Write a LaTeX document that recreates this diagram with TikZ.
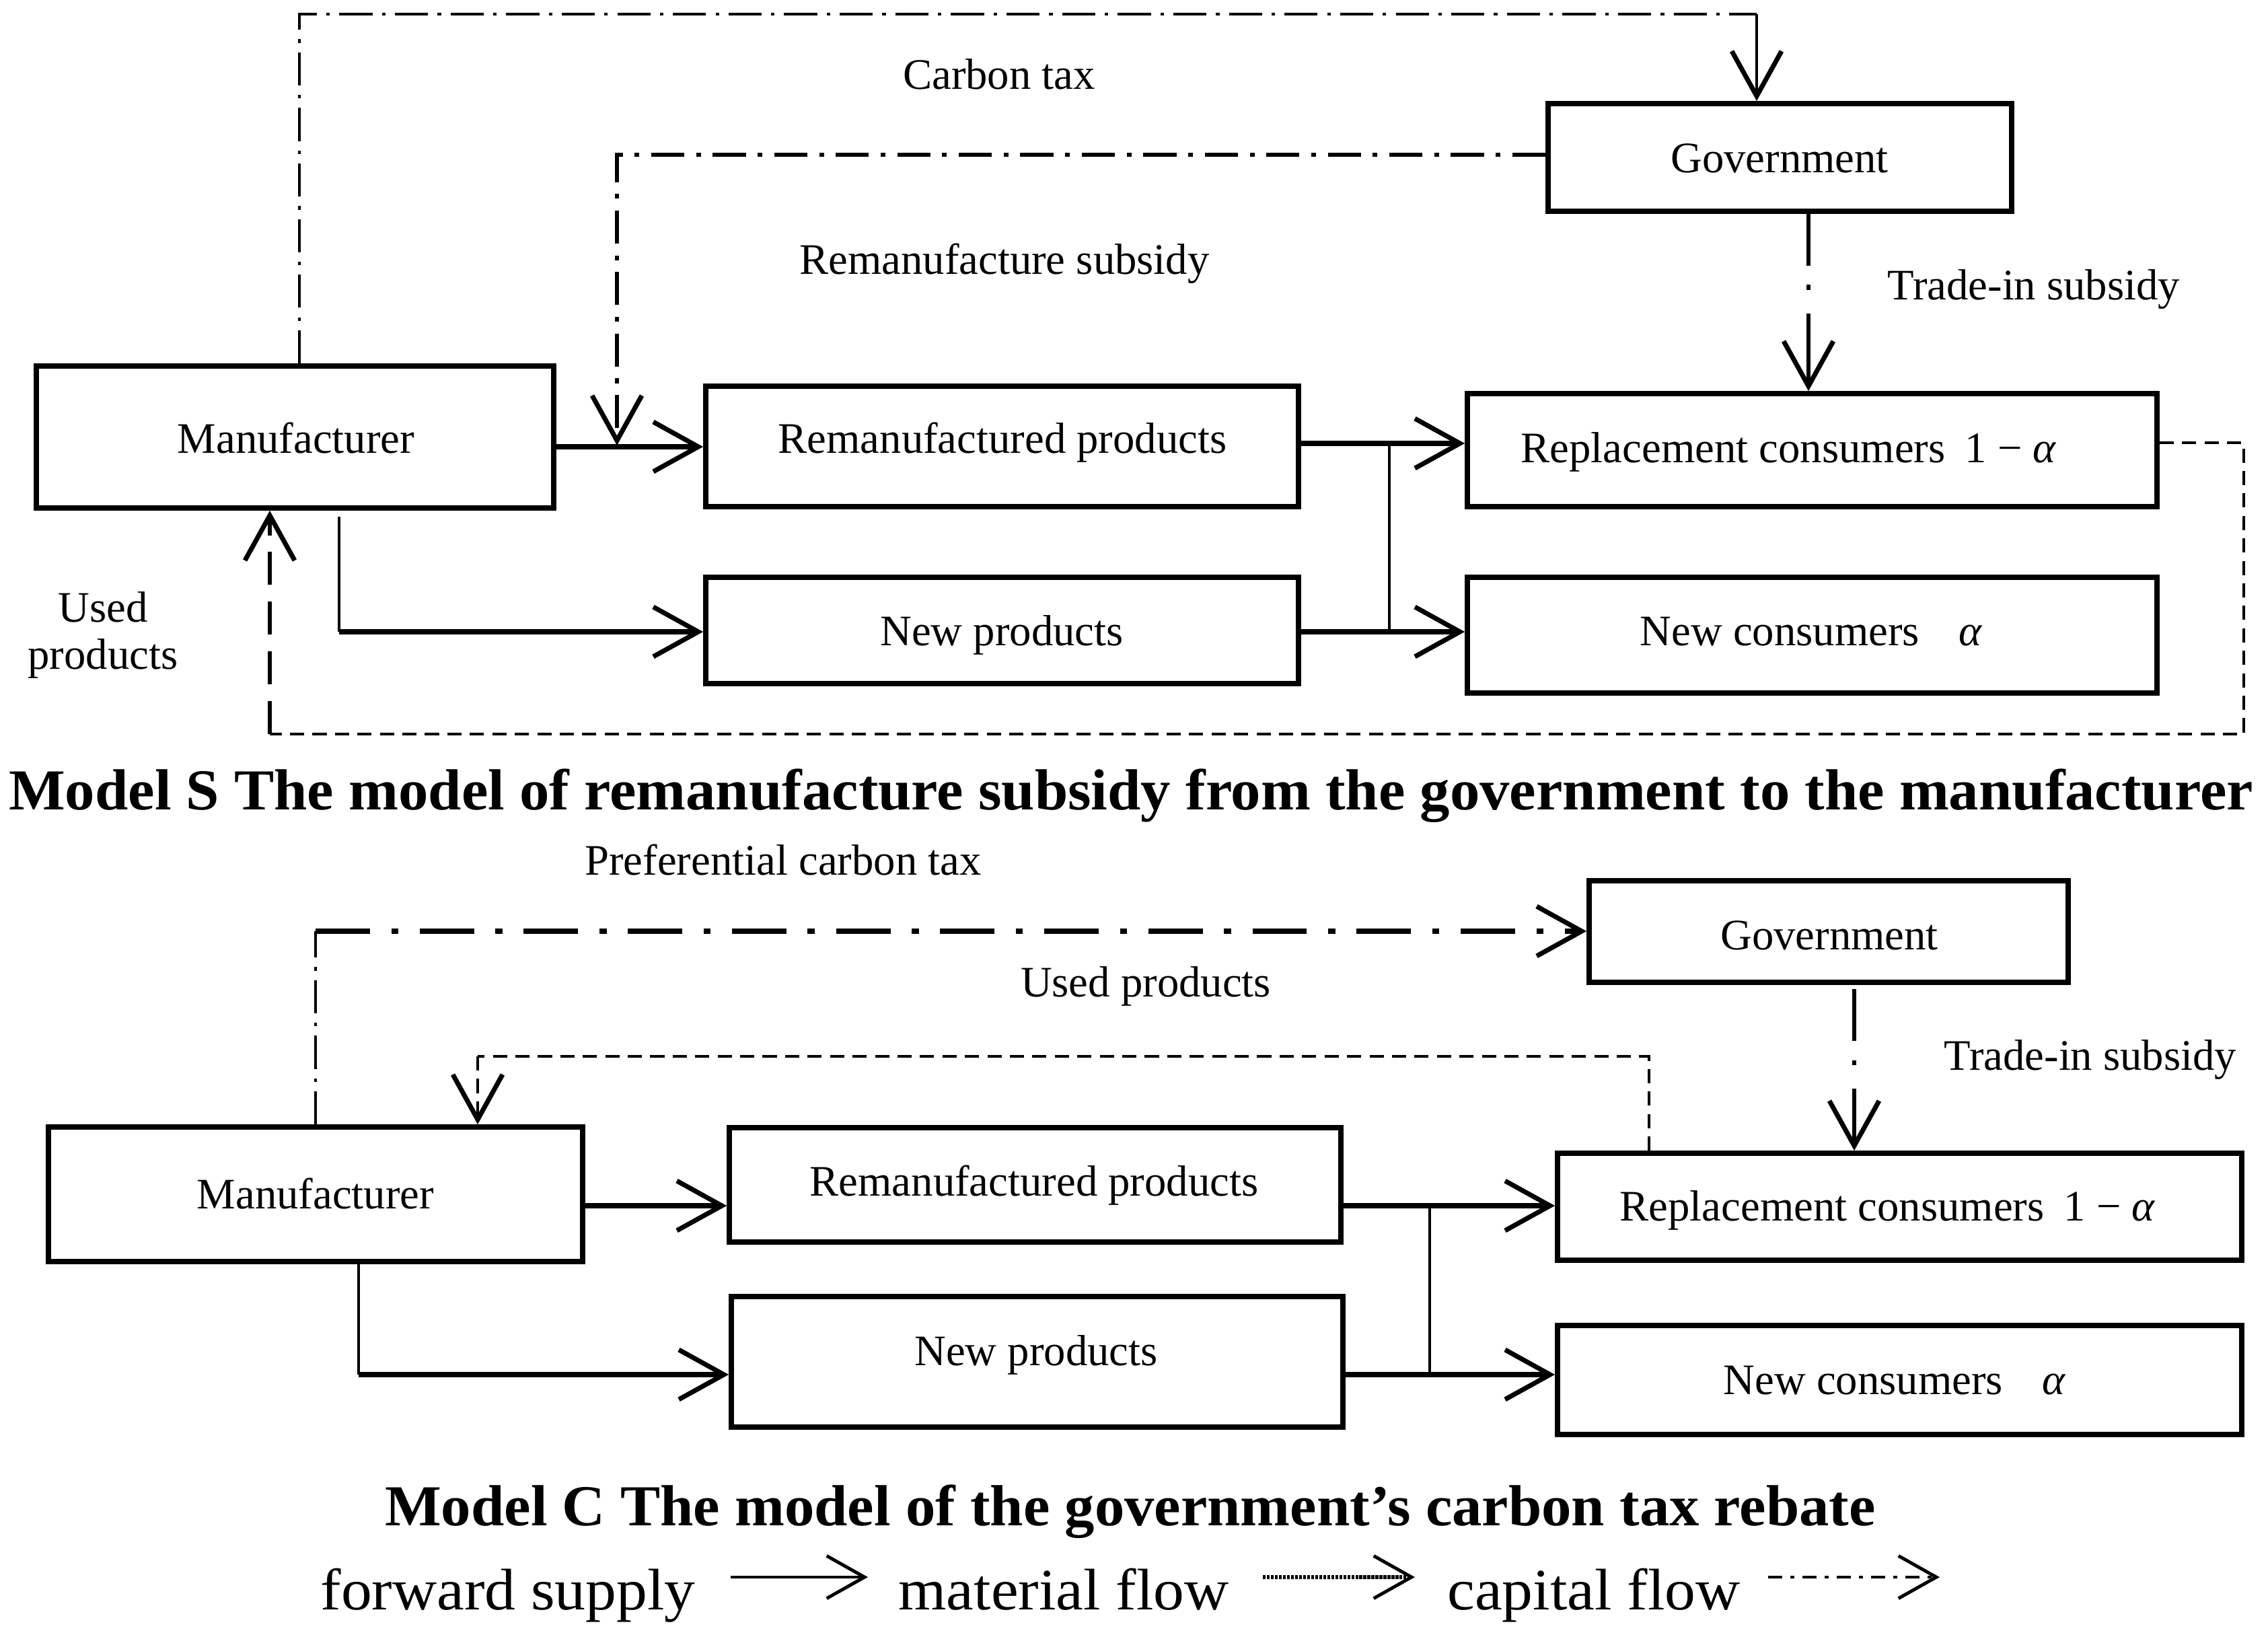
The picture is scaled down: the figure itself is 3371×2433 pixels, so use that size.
\documentclass[tikz,border=0pt]{standalone}
\usepackage{fontspec}
\setmainfont{Liberation Serif}
\newfontfamily\capfont[FakeStretch=1.03]{Liberation Serif}
\newfontfamily\legfont[FakeStretch=1.05]{Liberation Serif}
\usetikzlibrary{arrows.meta,fit,calc}
\begin{document}
\begin{tikzpicture}[x=0.01cm,y=-0.01cm,
  box/.style={draw, line width=2.2pt, inner sep=0pt},
  lbl/.style={inner sep=0pt, anchor=base, font=\fontsize{18.4}{22}\selectfont},
  captxt/.style={inner sep=0pt, anchor=base, font=\capfont\bfseries\fontsize{24.5}{29}\selectfont},
  legtxt/.style={inner sep=0pt, anchor=base, font=\legfont\fontsize{24.8}{29}\selectfont},
  barb/.style={-{Straight Barb[length=19pt,width=21pt,line width=2pt]}},
  fwd/.style={line width=2.2pt, barb},
  joiner/.style={line width=1pt},
  capthin/.style={line width=1pt, dash pattern=on 14pt off 4pt on 1.5pt off 4pt},
  capmid/.style={line width=1.8pt, dash pattern=on 14pt off 5pt on 2pt off 5pt},
  capthick/.style={line width=2.4pt, dash pattern=on 23pt off 9pt on 3pt off 9pt},
  trade/.style={line width=1.8pt, dash pattern=on 22pt off 8pt on 2.2pt off 10pt on 60pt off 1pt},
  matthin/.style={line width=1pt, dash pattern=on 6pt off 3.5pt},
  matleft/.style={line width=1.8pt, dash pattern=on 14pt off 7pt},
]
\useasboundingbox (0,0) rectangle (3371,2433);
\fill[white] (0,0) rectangle (3371,2433);

% ---------------- Model S ----------------
\node[box, fit={(54,544) (823,755)}] (man1) {};
\node[box, fit={(1049,574) (1930,753)}] (rem1) {};
\node[box, fit={(1049,858) (1930,1016)}] (new1) {};
\node[box, fit={(2181,585) (3206,753)}] (rc1) {};
\node[box, fit={(2181,858) (3206,1030)}] (nc1) {};
\node[box, fit={(2301,154) (2990,314)}] (gov1) {};

\coordinate (a1) at (0,664);
\coordinate (b1) at (0,939);
\coordinate (j1) at (2065,0);
\coordinate (m1n) at (504,768);
\coordinate (ct1) at (445,21);
\coordinate (ct2) at (2611,21);
\coordinate (rs1) at (917,230);
\coordinate (ti1) at (2688,0);
\coordinate (mf1) at (3335,1091);
\coordinate (mf2) at (401,1091);

\draw[fwd] (man1.east |- a1) -- (rem1.west |- a1);
\draw[fwd] (rem1.east |- 0,659) -- (rc1.west |- 0,659);
\draw[fwd] (new1.east |- b1) -- (nc1.west |- b1);
\draw[joiner] (j1 |- 0,659) -- (j1 |- b1);
\draw[joiner] (m1n) -- (m1n |- b1);
\draw[fwd] (m1n |- b1) -- (new1.west |- b1);

\draw[capthin] (ct1 |- man1.north) -- (ct1) -- (ct2);
\draw[line width=1.4pt, barb] (ct2) -- (ct2 |- gov1.north);
\draw[capmid, barb] (gov1.west |- rs1) -- (rs1) -- (rs1 |- 0,662);
\draw[trade, barb] (gov1.south -| ti1) -- (rc1.north -| ti1);
\draw[matthin] ($(rc1.east)+(0,-11)$) -| (mf1) -- (mf2);
\draw[matleft, barb] (mf2) -- (mf2 |- man1.south);

\node[lbl] (tct1) at (1485,133) {Carbon tax};
\node[lbl] (tgov1) at (2645,256) {Government};
\node[lbl] (trs1) at (1493,407) {Remanufacture subsidy};
\node[lbl] (tti1) at (3023,445) {Trade-in subsidy};
\node[lbl] (tman1) at (440,673) {Manufacturer};
\node[lbl] (trem1) at (1490,673) {Remanufactured products};
\node[lbl, anchor=base west] (trc1) at (2260,687) {Replacement consumers\hspace{0.45em}1 − \textit{α}};
\node[lbl] (tu1) at (153,924) {Used};
\node[lbl] (tu2) at (153,994) {products};
\node[lbl] (tnew1) at (1489,959) {New products};
\node[lbl, anchor=base west] (tnc1) at (2437,959) {New consumers\hspace{0.9em}\textit{α}};

\node[captxt] (capS) at (1681,1203) {Model S The model of remanufacture subsidy from the government to the manufacturer};

% ---------------- Model C ----------------
\node[box, fit={(72,1675) (866,1875)}] (man2) {};
\node[box, fit={(1084,1676) (1993,1846)}] (rem2) {};
\node[box, fit={(1087,1927) (1996,2121)}] (new2) {};
\node[box, fit={(2315,1714) (3332,1873)}] (rc2) {};
\node[box, fit={(2315,1970) (3332,2132)}] (nc2) {};
\node[box, fit={(2362,1309) (3074,1460)}] (gov2) {};

\coordinate (a2) at (0,1792);
\coordinate (b2) at (0,2043);
\coordinate (j2) at (2125,0);
\coordinate (m2n) at (533,0);
\coordinate (pc) at (469,1384);
\coordinate (ti2) at (2756,1470);
\coordinate (mb1) at (2451,1570);
\coordinate (mb2) at (710,1570);

\draw[fwd] (man2.east |- a2) -- (rem2.west |- a2);
\draw[fwd] (rem2.east |- a2) -- (rc2.west |- a2);
\draw[fwd] (new2.east |- b2) -- (nc2.west |- b2);
\draw[joiner] (j2 |- a2) -- (j2 |- b2);
\draw[joiner] (man2.south -| m2n) -- (m2n |- b2);
\draw[fwd] (m2n |- b2) -- (new2.west |- b2);

\draw[capthin] (pc |- man2.north) -- (pc);
\draw[capthick, barb] (pc) -- (gov2.west |- pc);
\draw[trade, barb] (ti2) -- (rc2.north -| ti2);
\draw[matthin] (rc2.north -| mb1) -- (mb1) -- (mb2);
\draw[matthin, barb] (mb2) -- (mb2 |- man2.north);

\node[lbl] (tpc) at (1164,1300) {Preferential carbon tax};
\node[lbl] (tup) at (1703,1481) {Used products};
\node[lbl] (tgov2) at (2719,1411) {Government};
\node[lbl] (tti2) at (3107,1590) {Trade-in subsidy};
\node[lbl] (tman2) at (469,1796) {Manufacturer};
\node[lbl] (trem2) at (1537,1777) {Remanufactured products};
\node[lbl] (tnew2) at (1540,2029) {New products};
\node[lbl, anchor=base west] (trc2) at (2407,1814) {Replacement consumers\hspace{0.45em}1 − \textit{α}};
\node[lbl, anchor=base west] (tnc2) at (2561,2072) {New consumers\hspace{0.9em}\textit{α}};

\node[captxt] (capC) at (1680,2267) {Model C The model of the government’s carbon tax rebate};

% ---------------- Legend ----------------
\node[legtxt] (lfs) at (755,2392) {forward supply};
\node[legtxt] (lmf) at (1581,2392) {material flow};
\node[legtxt] (lcf) at (2369,2392) {capital flow};
\coordinate (l1a) at (1086,2344);
\coordinate (l1b) at (1290,2344);
\coordinate (l2a) at (1877,2344);
\coordinate (l2b) at (2103,2344);
\coordinate (l3a) at (2628,2344);
\coordinate (l3b) at (2883,2344);
\draw[line width=1.4pt, -{Straight Barb[length=16pt,width=18pt,line width=1.4pt]}] (l1a) -- (l1b);
\draw[line width=1.6pt, dash pattern=on 1.2pt off 0.5pt, -{Straight Barb[length=16pt,width=18pt,line width=1.4pt]}] (l2a) -- (l2b);
\draw[line width=1.4pt, dash pattern=on 6pt off 3.5pt on 1.5pt off 3.5pt, -{Straight Barb[length=16pt,width=18pt,line width=1.4pt]}] (l3a) -- (l3b);
\end{tikzpicture}
\end{document}
